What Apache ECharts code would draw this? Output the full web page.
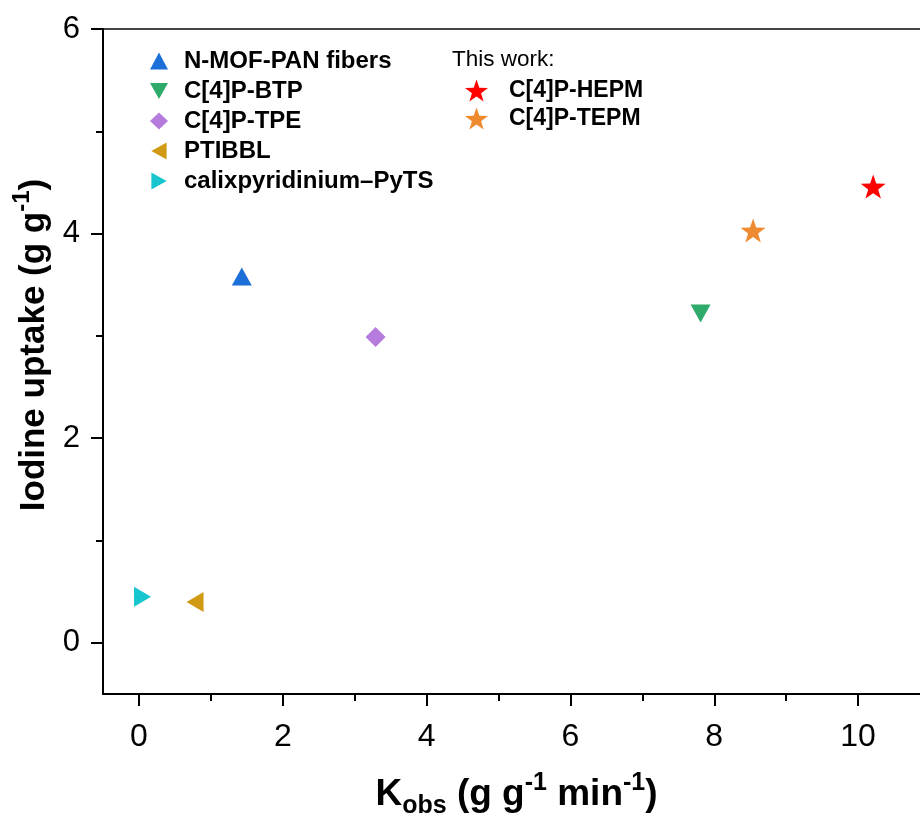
<!DOCTYPE html>
<html>
<head>
<meta charset="utf-8">
<title>Iodine uptake vs Kobs</title>
<script src="https://cdn.jsdelivr.net/npm/echarts@6/dist/echarts.min.js"></script>
<style>
  html, body { margin: 0; padding: 0; background: #fff; }
  #chart { width: 920px; height: 818px; }
</style>
</head>
<body>
<div id="chart"></div>
<script>
// Materials shown, with their K_obs (g g^-1 min^-1) and iodine uptake (g g^-1)
const referenceNames = ['N-MOF-PAN fibers', 'C[4]P-BTP', 'C[4]P-TPE', 'PTIBBL', 'calixpyridinium\u2013PyTS'];
const thisWorkNames = ['C[4]P-HEPM', 'C[4]P-TEPM'];

const kobs   = { 'N-MOF-PAN fibers': 1.43, 'C[4]P-BTP': 7.81, 'C[4]P-TPE': 3.29, 'PTIBBL': 0.78,
                 'calixpyridinium\u2013PyTS': 0.05, 'C[4]P-HEPM': 10.21, 'C[4]P-TEPM': 8.54 };
const uptake = { 'N-MOF-PAN fibers': 3.58, 'C[4]P-BTP': 3.22, 'C[4]P-TPE': 2.99, 'PTIBBL': 0.40,
                 'calixpyridinium\u2013PyTS': 0.45, 'C[4]P-HEPM': 4.46, 'C[4]P-TEPM': 4.03 };

// Axis ticks
const xMajorTicks = [0, 2, 4, 6, 8, 10];
const xMinorTicks = [1, 3, 5, 7, 9];
const yMajorTicks = [0, 2, 4, 6];
const yMinorTicks = [1, 3, 5];

// Marker shapes
const STAR = 'path://M10,0 L12.351,6.764 L19.511,6.910 L13.804,11.236 L15.878,18.090 L10,14 L4.122,18.090 L6.196,11.236 L0.489,6.910 L7.649,6.764 Z';
const DOWN = 'path://M0,0 L20,0 L10,18 Z';
const LEFT = 'path://M18,0 L18,20 L0,10 Z';
const RIGHT = 'path://M0,0 L18,10 L0,20 Z';

const style = {
  'N-MOF-PAN fibers':          { symbol: 'triangle', size: [20, 18], color: '#1C6FD8' },
  'C[4]P-BTP':                 { symbol: DOWN,       size: [20, 18], color: '#2EAA6B' },
  'C[4]P-TPE':                 { symbol: 'diamond',  size: [20, 20], color: '#B57BDD' },
  'PTIBBL':                    { symbol: LEFT,       size: [17, 20], color: '#D19A14' },
  'calixpyridinium\u2013PyTS': { symbol: RIGHT,      size: [17, 20], color: '#17C5CE' },
  'C[4]P-HEPM':                { symbol: STAR,       size: [25, 24], color: '#FF0000' },
  'C[4]P-TEPM':                { symbol: STAR,       size: [25, 24], color: '#EE8A2F' }
};

const FONT = '"Liberation Sans", Arial, Helvetica, sans-serif';

function titleRich(base, small) {
  return {
    b:   { fontFamily: FONT, fontWeight: 'bold', fontSize: base, lineHeight: 48, color: '#000' },
    sup: { fontFamily: FONT, fontWeight: 'bold', fontSize: small, lineHeight: small, verticalAlign: 'top', color: '#000' },
    sub: { fontFamily: FONT, fontWeight: 'bold', fontSize: small, lineHeight: small, verticalAlign: 'bottom', color: '#000' }
  };
}

const allNames = referenceNames.concat(thisWorkNames);
const series = allNames.map(name => ({
  name: name,
  type: 'scatter',
  xAxisIndex: 0,
  yAxisIndex: 0,
  symbol: style[name].symbol,
  symbolSize: style[name].size,
  itemStyle: { color: style[name].color, opacity: 1 },
  emphasis: { disabled: true },
  data: [[kobs[name], uptake[name]]]
}));

const chart = echarts.init(document.getElementById('chart'), null, { renderer: 'canvas' });

chart.setOption({
  animation: false,
  backgroundColor: '#fff',
  grid: {
    left: 103, top: 29, bottom: 124, right: -10,
    outerBoundsMode: 'none', containLabel: false,
    show: true, borderColor: '#444', borderWidth: 2, backgroundColor: 'transparent'
  },
  graphic: [{
    type: 'text', left: 452, top: 48,
    style: { text: 'This work:', font: '22.5px ' + FONT, fill: '#000' }
  }],
  legend: [{
    data: referenceNames.map(n => ({ name: n, icon: style[n].symbol })),
    orient: 'vertical', left: 150, top: 49, padding: 0,
    itemWidth: 18, itemHeight: 17, itemGap: 6, selectedMode: false,
    textStyle: { fontFamily: FONT, fontWeight: 'bold', fontSize: 24, lineHeight: 22, color: '#000', padding: [0, 0, 0, 11] }
  }, {
    data: thisWorkNames.map(n => ({ name: n, icon: STAR })),
    orient: 'vertical', left: 465, top: 79, padding: 0,
    itemWidth: 23, itemHeight: 22, itemGap: 5, selectedMode: false,
    textStyle: { fontFamily: FONT, fontWeight: 'bold', fontSize: 23, lineHeight: 22, color: '#000', padding: [0, 0, 0, 16] }
  }],
  xAxis: [{
    type: 'value', position: 'bottom', min: -0.5, max: 11,
    splitLine: { show: false },
    axisLine: { show: true, onZero: false, lineStyle: { color: '#000', width: 2 } },
    axisTick: { show: true, customValues: xMajorTicks, length: 12, lineStyle: { color: '#000', width: 2 } },
    axisLabel: { customValues: xMajorTicks, margin: 27, fontFamily: FONT, fontSize: 32, color: '#000' },
    name: '{b|K}{sub|obs}{b| (g g}{sup|-1}{b| min}{sup|-1}{b|)}',
    nameLocation: 'middle', nameGap: 77,
    nameTextStyle: { rich: titleRich(37, 25) }
  }, {
    // minor ticks on the bottom axis
    type: 'value', position: 'bottom', min: -0.5, max: 11,
    splitLine: { show: false },
    axisLine: { show: false, onZero: false },
    axisTick: { show: true, customValues: xMinorTicks, length: 7, lineStyle: { color: '#000', width: 2 } },
    axisLabel: { show: false }
  }],
  yAxis: [{
    type: 'value', position: 'left', min: -0.5, max: 6,
    splitLine: { show: false },
    axisLine: { show: true, onZero: false, lineStyle: { color: '#000', width: 2 } },
    axisTick: { show: true, customValues: yMajorTicks, length: 12, lineStyle: { color: '#000', width: 2 } },
    axisLabel: { customValues: yMajorTicks, margin: 23, fontFamily: FONT, fontSize: 31, color: '#000' },
    name: '{b|Iodine uptake (g g}{sup|-1}{b|)}',
    nameLocation: 'middle', nameGap: 44,
    nameTextStyle: { rich: titleRich(35, 24), padding: [0, 0, 0, 33] }
  }, {
    // minor ticks on the left axis
    type: 'value', position: 'left', min: -0.5, max: 6,
    splitLine: { show: false },
    axisLine: { show: false, onZero: false },
    axisTick: { show: true, customValues: yMinorTicks, length: 7, lineStyle: { color: '#000', width: 2 } },
    axisLabel: { show: false }
  }],
  series: series
});
</script>
</body>
</html>
